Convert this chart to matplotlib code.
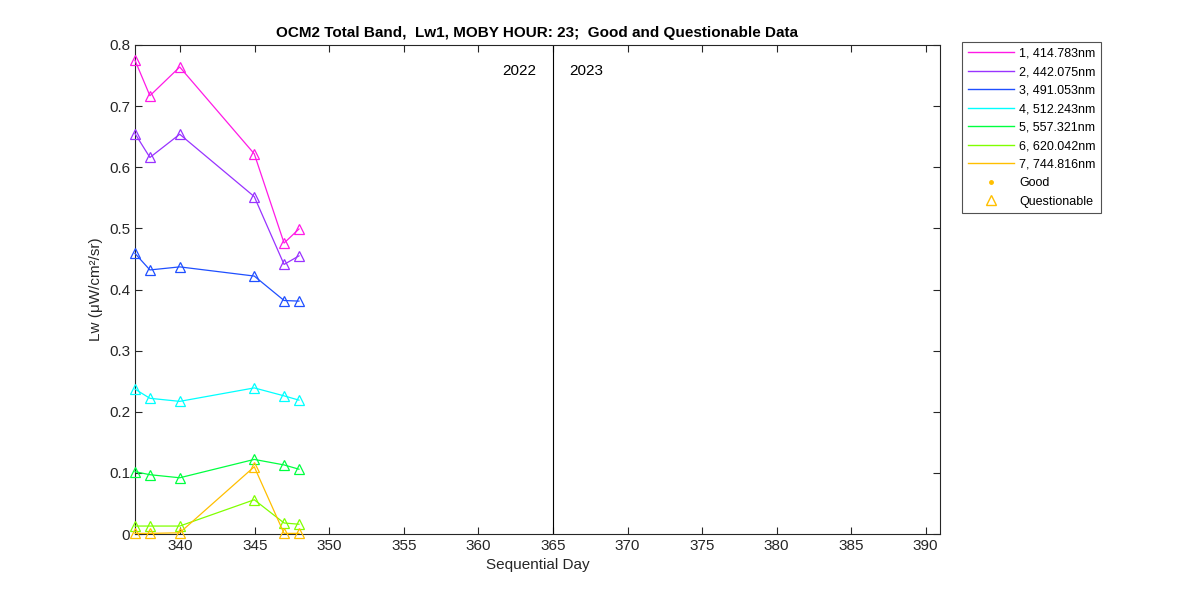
import numpy as np
import matplotlib
matplotlib.use("Agg")
import matplotlib.pyplot as plt
from matplotlib.lines import Line2D

plt.rcParams["font.family"] = ["Liberation Sans", "DejaVu Sans"]

# sequential day (hour 23 -> day + 23/24)
days = [336.958, 337.958, 339.958, 344.958, 346.958, 347.958]

band_labels = ["1, 414.783nm", "2, 442.075nm", "3, 491.053nm", "4, 512.243nm",
               "5, 557.321nm", "6, 620.042nm", "7, 744.816nm"]
band_colors = ["#ff1ae6", "#9933ff", "#1f4fff", "#00ffff",
               "#00ff40", "#80ff00", "#ffbf00"]

lw1 = [
    [0.775, 0.717, 0.764, 0.622, 0.476, 0.499],
    [0.655, 0.616, 0.654, 0.552, 0.441, 0.455],
    [0.459, 0.432, 0.437, 0.422, 0.382, 0.381],
    [0.237, 0.222, 0.217, 0.239, 0.226, 0.219],
    [0.102, 0.097, 0.092, 0.122, 0.113, 0.106],
    [0.013, 0.013, 0.013, 0.056, 0.018, 0.016],
    [0.001, 0.001, 0.002, 0.110, 0.001, 0.001],
]

year_break = 365
x_ticks = np.arange(340, 391, 5)
y_ticks = np.arange(0, 0.81, 0.1)

fig = plt.figure(figsize=(12, 6), dpi=100)
ax = fig.add_axes([0.1125, 0.11, 0.6708, 0.815])

for vals, col in zip(lw1, band_colors):
    ax.plot(days, vals, color=col, linewidth=0.9, marker="^", markersize=7,
            markerfacecolor="none", markeredgecolor=col, markeredgewidth=0.9,
            clip_on=False, zorder=3)

ax.axvline(year_break, color="black", linewidth=0.8)
ax.text(year_break - 1.1, 0.757, "2022", ha="right", va="center", fontsize=11)
ax.text(year_break + 1.1, 0.757, "2023", ha="left", va="center", fontsize=11)

ax.set_xlim(days[0], days[0] + 54)
ax.set_ylim(0, 0.8)
ax.set_xticks(x_ticks)
ax.set_yticks(y_ticks)
ax.set_yticklabels(["0"] + [f"{v:.1f}" for v in y_ticks[1:]])
ax.tick_params(direction="in", length=5, labelsize=11, colors="#262626",
               top=True, right=True)
for sp in ax.spines.values():
    sp.set_color("#262626")
    sp.set_linewidth(0.8)

ax.set_xlabel("Sequential Day", fontsize=11, color="#262626")
ax.set_ylabel("Lw (μW/cm²/sr)", fontsize=11, color="#262626")
ax.set_title("OCM2 Total Band,  Lw1, MOBY HOUR: 23;  Good and Questionable Data",
             fontsize=11, fontweight="bold", pad=6)

handles = [Line2D([], [], color=c, linewidth=1.0) for c in band_colors]
handles.append(Line2D([], [], linestyle="none", marker=".", markersize=5,
                      color=band_colors[-1]))
handles.append(Line2D([], [], linestyle="none", marker="^", markersize=7,
                      markerfacecolor="none", markeredgecolor=band_colors[-1]))
leg = fig.legend(handles, band_labels + ["Good", "Questionable"],
                 loc="upper left", bbox_to_anchor=(0.8017, 0.93), fontsize=9,
                 frameon=True, fancybox=False, handlelength=3.7,
                 borderpad=0.45, borderaxespad=0, labelspacing=0.52,
                 handletextpad=0.4)
leg.get_frame().set_edgecolor("#262626")
leg.get_frame().set_linewidth(0.8)

fig.savefig("out.png", dpi=100)
